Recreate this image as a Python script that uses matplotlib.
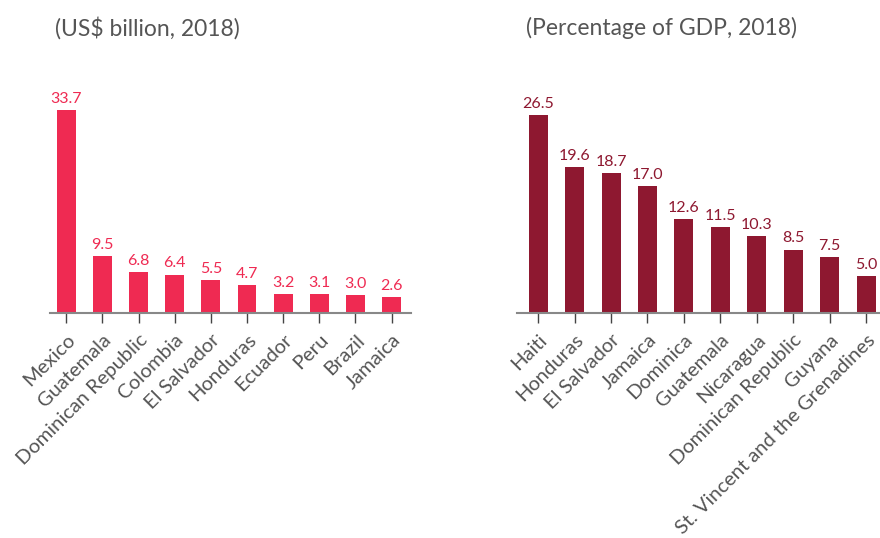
import matplotlib
matplotlib.use("Agg")
import matplotlib.pyplot as plt

plt.rcParams['font.family'] = ['Lato', 'DejaVu Sans']

# left panel: remittances, US$ billion
left_countries = ["Mexico", "Guatemala", "Dominican Republic", "Colombia", "El Salvador",
                  "Honduras", "Ecuador", "Peru", "Brazil", "Jamaica"]
left_values = [33.7, 9.5, 6.8, 6.4, 5.5, 4.7, 3.2, 3.1, 3.0, 2.6]

# right panel: remittances, % of GDP
right_countries = ["Haiti", "Honduras", "El Salvador", "Jamaica", "Dominica", "Guatemala",
                   "Nicaragua", "Dominican Republic", "Guyana",
                   "St. Vincent and the Grenadines"]
right_values = [26.5, 19.6, 18.7, 17.0, 12.6, 11.5, 10.3, 8.5, 7.5, 5.0]

left_title = "(US$ billion, 2018)"
right_title = "(Percentage of GDP, 2018)"

left_color = "#EF2A52"
right_color = "#8E1830"
grey = "#555555"

fig = plt.figure(figsize=(8.8, 5.38), dpi=100)
ax1 = fig.add_axes([0.0568, 0.418, 0.410, 0.433])
ax2 = fig.add_axes([0.5875, 0.418, 0.4125, 0.433])


def draw(ax, names, vals, color, xlim, ytop):
    x = range(len(vals))
    bars = ax.bar(x, vals, width=0.52, color=color)
    for b, v in zip(bars, vals):
        ax.annotate(f"{v:.1f}", (b.get_x() + b.get_width() / 2, v),
                    xytext=(0, 3), textcoords="offset points",
                    ha="center", va="bottom", fontsize=11.5, color=color)
    ax.set_xlim(*xlim)
    ax.set_ylim(0, ytop)
    ax.set_xticks(list(x))
    ax.set_xticklabels(names, rotation=45, ha="right", rotation_mode="anchor",
                       fontsize=14.5, color=grey)
    ax.tick_params(axis="x", length=7, width=1, color="#444444", pad=6)
    ax.set_yticks([])
    for s in ["top", "right", "left"]:
        ax.spines[s].set_visible(False)
    ax.spines["bottom"].set_color("#888888")
    ax.spines["bottom"].set_linewidth(1.5)


draw(ax1, left_countries, left_values, left_color, (-0.45, 9.53), 38.7)
draw(ax2, right_countries, right_values, right_color, (-0.58, 9.38), 31.2)

fig.text(55 / 880, 1 - 28 / 538, left_title, fontsize=16.5, color=grey, va="center", ha="left")
fig.text(526 / 880, 1 - 28 / 538, right_title, fontsize=16.5, color=grey, va="center", ha="left")

fig.savefig("out.png", dpi=100)
